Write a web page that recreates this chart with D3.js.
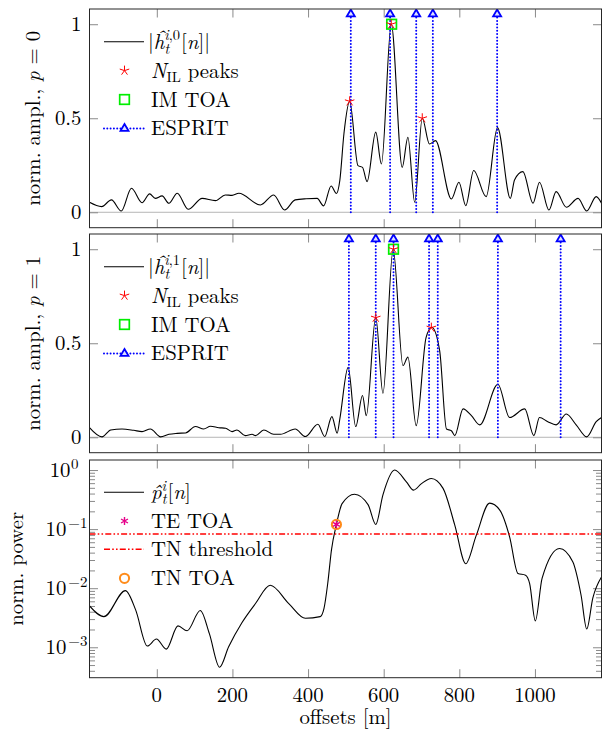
<!DOCTYPE html>
<html><head><meta charset="utf-8">
<script src="https://cdn.jsdelivr.net/npm/d3@7"></script>
<style>
body{margin:0;background:#fff}
svg{display:block}
</style>
</head><body>
<svg id="c" width="603" height="735" font-family="Latin Modern Roman, CMU Serif, Liberation Serif, serif"></svg>
<script>
// ---------- data ----------
const xDomain = [-178, 1176];
const xTicks = [0, 200, 400, 600, 800, 1000];
const ampTicks = [0, 0.5, 1];
const ampTickLabels = ['0', '0.5', '1'];
const powTicks = [1, 0.1, 0.01, 0.001];

// panel 1 (p = 0)
const off0 = [-178,-146,-120,-94,-67,-39,-19,-4,14,32,54,83,120,155,181,199,217,274,309,338,366,395,424,441,461,475,484,495,510,532,544,556,579,594,620,649,664,682,702,721,737,779,799,817,838,871,901,935,946,968,995,1012,1037,1056,1083,1114,1137,1162,1176];
const amp0 = [0.053,0.030,0.066,0.007,0.128,0.051,0.098,0.074,0.087,0.048,0.101,0.016,0.074,0.062,0.092,0.090,0.101,0.039,0.092,0.012,0.066,0.072,0.074,0.034,0.140,0.100,0.170,0.420,0.590,0.248,0.239,0.163,0.426,0.257,1.000,0.239,0.399,0.053,0.500,0.363,0.381,0.071,0.160,0.035,0.222,0.083,0.450,0.074,0.172,0.216,0.048,0.160,0.012,0.110,0.027,0.074,0.007,0.083,0.048];
const peaks0X = [510, 620, 702];
const peaks0Y = [0.59, 1.0, 0.5];
const imToa0 = [621, 1.0];
const esprit0 = [513, 617, 686, 730, 900];

// panel 2 (p = 1)
const off1 = [-178,-145,-122,-92,-61,-39,-17,10,32,54,76,102,124,142,164,182,199,212,234,252,261,283,309,327,366,393,426,444,463,477,484,506,526,544,554,579,598,625,651,664,686,712,727,748,766,779,788,810,832,854,902,933,973,997,1012,1034,1056,1083,1109,1137,1162,1176];
const amp1 = [0.051,0.002,0.039,0.044,0.037,0.030,0.044,0.002,0.016,0.021,0.023,0.057,0.044,0.059,0.051,0.048,0.030,0.039,0.009,0.016,0.009,0.039,0.016,0.016,0.044,0.004,0.069,0.004,0.110,0.022,0.098,0.372,0.057,0.222,0.115,0.638,0.234,1.000,0.381,0.426,0.062,0.530,0.585,0.461,0.044,0.035,0.009,0.151,0.115,0.066,0.282,0.105,0.151,0.009,0.105,0.083,0.066,0.124,0.066,0.002,0.083,0.105];
const peaks1X = [579, 626, 726];
const peaks1Y = [0.636, 1.0, 0.583];
const imToa1 = [626, 1.0];
const esprit1 = [508, 579, 626, 720, 743, 902, 1068];
const espritTop = 1.055;

// panel 3 (power)
const offP = [-178,-140,-83,-56,-25,-1,25,56,80,115,139,166,190,225,261,300,349,393,432,442,452,462,475,490,523,559,579,598,629,660,679,700,726,757,788,817,845,880,907,933,955,975,986,1001,1019,1065,1100,1122,1137,1153,1176];
const powP = [0.0050,0.0033,0.0091,0.0043,0.00105,0.00138,0.00093,0.0023,0.0019,0.0042,0.0017,0.00046,0.00102,0.0026,0.0055,0.0112,0.0055,0.0031,0.0033,0.0045,0.012,0.045,0.12,0.27,0.39,0.257,0.12,0.38,1.0,0.63,0.457,0.59,0.72,0.49,0.117,0.026,0.079,0.275,0.21,0.074,0.0178,0.0166,0.012,0.0028,0.0148,0.047,0.028,0.0076,0.00204,0.0068,0.0155];
const tnThreshold = 0.0826;
const teToa = [475, 0.12];
const tnToa = [475, 0.12];

// ---------- layout ----------
const FONT = 'Latin Modern Roman, CMU Serif, Liberation Serif, serif';
const svg = d3.select('#c');
const X0 = 89.5, X1 = 601.5;
const panels = [{top:9,bottom:227.7},{top:234,bottom:452.7},{top:460,bottom:677.7}];
const x = d3.scaleLinear().domain(xDomain).range([X0, X1]);
const yA = panels.slice(0,2).map(p => d3.scaleLinear().domain([-0.082,1.081]).range([p.bottom,p.top]));
const yP = d3.scaleLog().domain([Math.pow(10,-3.515), Math.pow(10,0.17)]).range([panels[2].bottom, panels[2].top]);

const FS = 20.8, SFS = 14.5;
const TICK = 8.5, MINOR = 5.5;
const tickColor = '#8a8a8a';

function txt(g){ return g.append('text').attr('font-family',FONT).attr('font-size',FS).attr('fill','#000'); }

const defs = svg.append('defs');
panels.forEach((p,i)=>{
  defs.append('clipPath').attr('id','clip'+i).append('rect')
    .attr('x',X0).attr('y',p.top).attr('width',X1-X0).attr('height',p.bottom-p.top);
});

function star5(r){let d='';for(let k=0;k<5;k++){const a=(-90+k*72)*Math.PI/180;d+=`M0,0L${(r*Math.cos(a)).toFixed(2)},${(r*Math.sin(a)).toFixed(2)}`;}return d;}
function aster6(r){let d='';for(let k=0;k<3;k++){const a=(90+k*60)*Math.PI/180;const c=r*Math.cos(a),s=r*Math.sin(a);d+=`M${(-c).toFixed(2)},${(-s).toFixed(2)}L${c.toFixed(2)},${s.toFixed(2)}`;}return d;}
const triPath = 'M0,-4.4L4,2.4L-4,2.4Z';

function drawStar(g,cx,cy){g.append('path').attr('d',star5(5)).attr('transform',`translate(${cx},${cy})`).attr('stroke','#ff0000').attr('stroke-width',1).attr('fill','none');}
function drawSquare(g,cx,cy){g.append('rect').attr('x',cx-4.8).attr('y',cy-4.8).attr('width',9.6).attr('height',9.6).attr('stroke','#00ee00').attr('stroke-width',1.7).attr('fill','none');}
function drawTri(g,cx,cy){g.append('path').attr('d',triPath).attr('transform',`translate(${cx},${cy})`).attr('stroke','#0000ff').attr('stroke-width',1.8).attr('fill','#dde0ff');}

function cleanAxis(g){ g.attr('font-family',null).attr('font-size',null); g.select('.domain').remove(); g.selectAll('line').attr('stroke',tickColor).attr('stroke-width',1); }

// ---------- axes frames & ticks ----------
function xTickAxes(p){
  const gb = svg.append('g').attr('transform',`translate(0,${p.bottom})`)
    .call(d3.axisBottom(x).tickValues(xTicks).tickSize(-TICK).tickFormat(''));
  const gt = svg.append('g').attr('transform',`translate(0,${p.top})`)
    .call(d3.axisTop(x).tickValues(xTicks).tickSize(-TICK).tickFormat(''));
  [gb,gt].forEach(cleanAxis);
}

// amplitude panels
[0,1].forEach(i=>{
  const p = panels[i], y = yA[i];
  svg.append('line').attr('x1',X0).attr('x2',X1).attr('y1',y(0)).attr('y2',y(0)).attr('stroke','#b5b5b5').attr('stroke-width',1);
  xTickAxes(p);
  const gl = svg.append('g').attr('transform',`translate(${X0},0)`)
    .call(d3.axisLeft(y).tickValues(ampTicks).tickSize(-TICK).tickFormat(''));
  const gr = svg.append('g').attr('transform',`translate(${X1},0)`)
    .call(d3.axisRight(y).tickValues(ampTicks).tickSize(-TICK).tickFormat(''));
  [gl,gr].forEach(cleanAxis);
  ampTicks.forEach((v,k)=>{
    txt(svg).attr('x',81.5).attr('y',y(v)+7).attr('text-anchor','end').text(ampTickLabels[k]);
  });
});

// power panel
{
  const p = panels[2];
  xTickAxes(p);
  const minors=[];
  for(let e=-4;e<=0;e++){for(let m=2;m<=9;m++){const v=m*Math.pow(10,e); if(v>=yP.domain()[0]&&v<=yP.domain()[1]) minors.push(v);}}
  const gl = svg.append('g').attr('transform',`translate(${X0},0)`).call(d3.axisLeft(yP).tickValues(minors).tickSize(-MINOR).tickFormat(''));
  const gr = svg.append('g').attr('transform',`translate(${X1},0)`).call(d3.axisRight(yP).tickValues(minors).tickSize(-MINOR).tickFormat(''));
  const gl2 = svg.append('g').attr('transform',`translate(${X0},0)`).call(d3.axisLeft(yP).tickValues(powTicks).tickSize(-TICK).tickFormat(''));
  const gr2 = svg.append('g').attr('transform',`translate(${X1},0)`).call(d3.axisRight(yP).tickValues(powTicks).tickSize(-TICK).tickFormat(''));
  [gl,gr,gl2,gr2].forEach(cleanAxis);
  powTicks.forEach(v=>{
    const e = Math.round(Math.log10(v));
    const t = txt(svg).attr('x', e===0?78.5:87.5).attr('y', yP(v)+7).attr('text-anchor','end');
    t.append('tspan').text('10');
    t.append('tspan').attr('dy',-8.5).attr('dx',e===0?0.5:2).attr('font-size',SFS+0.5).text(e===0?'0':'\u2212'+(-e));
  });
  xTicks.forEach(v=>{
    txt(svg).attr('x',x(v)).attr('y',701.5).attr('text-anchor','middle').text(v);
  });
  txt(svg).attr('x',(X0+X1)/2).attr('y',723.5).attr('text-anchor','middle').text('offsets [m]');
}

// ---------- curves ----------
function drawAmpPanel(i, offs, amps, peaksX, peaksY, im, esp){
  const y = yA[i];
  const g = svg.append('g').attr('clip-path',`url(#clip${i})`);
  const data = offs.map((o,k)=>[o,amps[k]]);
  g.append('path').datum(data).attr('fill','none').attr('stroke','#000').attr('stroke-width',1.1)
    .attr('d', d3.line().x(d=>x(d[0])).y(d=>y(d[1])).curve(d3.curveMonotoneX));
  esp.forEach(e=>{
    g.append('line').attr('x1',x(e)).attr('x2',x(e)).attr('y1',y(0)).attr('y2',y(espritTop))
      .attr('stroke','#0000ff').attr('stroke-width',2).attr('stroke-linecap','round').attr('stroke-dasharray','0,3.3');
  });
  esp.forEach(e=> drawTri(g, x(e), y(espritTop)));
  drawSquare(g, x(im[0]), y(im[1]));
  peaksX.forEach((px,k)=> drawStar(g, x(px), y(peaksY[k])));
}
drawAmpPanel(0, off0, amp0, peaks0X, peaks0Y, imToa0, esprit0);
drawAmpPanel(1, off1, amp1, peaks1X, peaks1Y, imToa1, esprit1);

{
  const g = svg.append('g').attr('clip-path','url(#clip2)');
  const data = offP.map((o,k)=>[o,powP[k]]);
  g.append('path').datum(data).attr('fill','none').attr('stroke','#000').attr('stroke-width',1.1)
    .attr('d', d3.line().x(d=>x(d[0])).y(d=>yP(d[1])).curve(d3.curveMonotoneX));
  g.append('line').attr('x1',X0).attr('x2',X1).attr('y1',yP(tnThreshold)).attr('y2',yP(tnThreshold))
    .attr('stroke','#ff0000').attr('stroke-width',1.6).attr('stroke-dasharray','6,2.2,1.6,2.2,1.6,2.2');
  g.append('circle').attr('cx',x(tnToa[0])).attr('cy',yP(tnToa[1])).attr('r',4.6).attr('fill','none').attr('stroke','#ff8c1a').attr('stroke-width',2);
  g.append('path').attr('d',aster6(4)).attr('transform',`translate(${x(teToa[0])},${yP(teToa[1])})`).attr('stroke','#e6008a').attr('stroke-width',1.4);
}

// frames
panels.forEach(p=>{
  svg.append('rect').attr('x',X0).attr('y',p.top).attr('width',X1-X0).attr('height',p.bottom-p.top)
    .attr('fill','none').attr('stroke','#262626').attr('stroke-width',1);
});

// ---------- legends ----------
const LX0=104, LX1=144, LMX=124.5, LTX=151;
function hLabel(t, sup){
  t.append('tspan').text('|');
  t.append('tspan').attr('font-style','italic').text('\u0125');
  t.append('tspan').attr('font-style','italic').attr('font-size',SFS).attr('dy',5).text('t');
  t.append('tspan').attr('font-style','italic').attr('font-size',SFS).attr('dx',-5).attr('dy',-13.5).text('i');
  t.append('tspan').attr('font-size',SFS).text(','+sup);
  t.append('tspan').attr('dy',8.5).attr('dx',1).text('[');
  t.append('tspan').attr('font-style','italic').text('n');
  t.append('tspan').text(']|');
}
function ampLegend(i, sup){
  const top = panels[i].top;
  const rows = [32.7, 61.6, 90.5, 119.4].map(r=>top+r);
  const g = svg.append('g');
  g.append('line').attr('x1',LX0).attr('x2',LX1).attr('y1',rows[0]).attr('y2',rows[0]).attr('stroke','#000').attr('stroke-width',1.1);
  hLabel(txt(g).attr('x',LTX-3).attr('y',rows[0]+7), sup);
  drawStar(g, LMX, rows[1]);
  const t2 = txt(g).attr('x',LTX).attr('y',rows[1]+7);
  t2.append('tspan').attr('font-style','italic').text('N');
  t2.append('tspan').attr('font-size',SFS).attr('dy',4).text('IL');
  t2.append('tspan').attr('dy',-4).text(' peaks');
  drawSquare(g, LMX, rows[2]);
  txt(g).attr('x',LTX).attr('y',rows[2]+7).text('IM TOA');
  g.append('line').attr('x1',LX0).attr('x2',LX1).attr('y1',rows[3]).attr('y2',rows[3]).attr('stroke','#0000ff').attr('stroke-width',2).attr('stroke-linecap','round').attr('stroke-dasharray','0,3.3');
  drawTri(g, LMX, rows[3]);
  txt(g).attr('x',LTX).attr('y',rows[3]+7).text('ESPRIT');
}
ampLegend(0,'0');
ampLegend(1,'1');
{
  const top = panels[2].top;
  const rows = [32.3, 61, 89.3, 118.3].map(r=>top+r);
  const g = svg.append('g');
  g.append('line').attr('x1',LX0).attr('x2',LX1).attr('y1',rows[0]).attr('y2',rows[0]).attr('stroke','#000').attr('stroke-width',1.1);
  const t = txt(g).attr('x',LTX).attr('y',rows[0]+7);
  t.append('tspan').attr('font-style','italic').text('p\u0302');
  t.append('tspan').attr('font-style','italic').attr('font-size',SFS).attr('dy',5).text('t');
  t.append('tspan').attr('font-style','italic').attr('font-size',SFS).attr('dx',-5).attr('dy',-13.5).text('i');
  t.append('tspan').attr('dy',8.5).attr('dx',1.5).text('[');
  t.append('tspan').attr('font-style','italic').text('n');
  t.append('tspan').text(']');
  g.append('path').attr('d',aster6(4)).attr('transform',`translate(${LMX},${rows[1]})`).attr('stroke','#e6008a').attr('stroke-width',1.4);
  txt(g).attr('x',LTX).attr('y',rows[1]+7).text('TE TOA');
  g.append('line').attr('x1',LX0).attr('x2',LX1).attr('y1',rows[2]).attr('y2',rows[2]).attr('stroke','#ff0000').attr('stroke-width',1.6).attr('stroke-dasharray','6,2.2,1.6,2.2,1.6,2.2');
  txt(g).attr('x',LTX).attr('y',rows[2]+7).text('TN threshold');
  g.append('circle').attr('cx',LMX).attr('cy',rows[3]).attr('r',4.6).attr('fill','none').attr('stroke','#ff8c1a').attr('stroke-width',2);
  txt(g).attr('x',LTX).attr('y',rows[3]+7).text('TN TOA');
}

// ---------- y labels ----------
[0,1].forEach(i=>{
  const p = panels[i];
  const t = txt(svg).attr('transform',`translate(40,${(p.top+p.bottom)/2}) rotate(-90)`).attr('text-anchor','middle');
  t.append('tspan').text('norm. ampl., ');
  t.append('tspan').attr('font-style','italic').text('p');
  t.append('tspan').text(' = '+i);
});
{
  const p = panels[2];
  txt(svg).attr('transform',`translate(23,${(p.top+p.bottom)/2}) rotate(-90)`).attr('text-anchor','middle').text('norm. power');
}
</script>
</body></html>
